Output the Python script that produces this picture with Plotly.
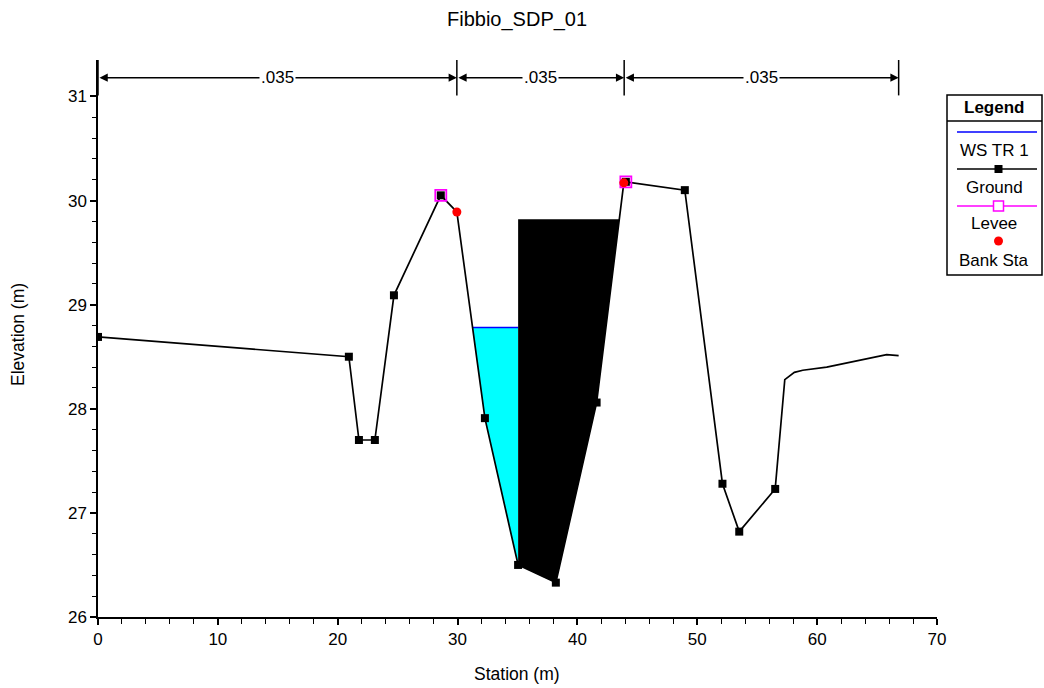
import numpy as np
import plotly.graph_objects as go

# ---------------- data ----------------
chart_title = "Fibbio_SDP_01"
x_title = "Station (m)"
y_title = "Elevation (m)"

ground_x = [0.0, 20.93, 21.77, 23.1, 24.69, 28.6, 29.94, 32.28, 35.05, 38.2, 41.6,
            43.87, 44.04, 48.96, 52.1, 53.5, 56.5, 57.3, 58.1, 58.8, 60.8, 63.0, 65.8, 66.8]
ground_y = [28.69, 28.5, 27.70, 27.70, 29.09, 30.05, 29.89, 27.91, 26.5, 26.33, 28.06,
            30.17, 30.18, 30.10, 27.28, 26.82, 27.23, 28.28, 28.35, 28.37, 28.40, 28.45, 28.52, 28.51]
ground_marked = [True, True, True, True, True, True, False, True, True, True, True,
                 False, True, True, True, True, True, False, False, False, False, False, False, False]

levee_x = [28.6, 44.04]
levee_y = [30.05, 30.18]

bank_x = [29.94, 43.87]
bank_y = [29.89, 30.17]

ws_elev = 28.78          # WS TR 1
obs_left = 35.05         # blocked obstruction left station
obs_elev = 29.82         # blocked obstruction elevation

n_stations = [0.0, 29.94, 43.9, 66.8]
n_values = [".035", ".035", ".035"]

legend_labels = ["WS TR 1", "Ground", "Levee", "Bank Sta"]

x_ticks = [0, 10, 20, 30, 40, 50, 60, 70]
y_ticks = [26, 27, 28, 29, 30, 31]

# ---------------- derived geometry ----------------
gx = np.array(ground_x)
gy = np.array(ground_y)

# water polygon: from left ground crossing to obstruction left edge
cand = [i for i in range(len(gx) - 1) if gx[i + 1] <= obs_left and gy[i] >= ws_elev > gy[i + 1]]
i0 = cand[-1]
xl = gx[i0] + (ws_elev - gy[i0]) / (gy[i0 + 1] - gy[i0]) * (gx[i0 + 1] - gx[i0])
inner = [k for k in range(i0 + 1, len(gx)) if gx[k] <= obs_left]
wx = [xl] + [gx[k] for k in inner] + [obs_left, xl]
wy = [ws_elev] + [gy[k] for k in inner] + [ws_elev, ws_elev]

# obstruction polygon
cand2 = [j for j in range(len(gx) - 1) if gx[j] >= obs_left and gy[j] < obs_elev <= gy[j + 1]]
j0 = cand2[0]
xr = gx[j0] + (obs_elev - gy[j0]) / (gy[j0 + 1] - gy[j0]) * (gx[j0 + 1] - gx[j0])
under = [k for k in range(len(gx)) if obs_left <= gx[k] <= gx[j0]]
ox = [obs_left, xr] + [gx[k] for k in reversed(under)] + [obs_left]
oy = [obs_elev, obs_elev] + [gy[k] for k in reversed(under)] + [obs_elev]

# ---------------- layout geometry (pixels) ----------------
W, H = 1044, 688
L, R, T, B = 98, 107, 60, 71
PW, PH = W - L - R, H - T - B
FONT = "Liberation Sans, Arial, sans-serif"


def PX(p):
    return (p - L) / PW


def PY(p):
    return (H - B - p) / PH


def label(x, y, text, size=17, **kw):
    d = dict(x=PX(x), y=PY(y), xref="paper", yref="paper", text=text, showarrow=False,
             xanchor="center", yanchor="middle",
             font=dict(family=FONT, size=size, color="black"))
    d.update(kw)
    return d


fig = go.Figure()

fig.add_trace(go.Scatter(x=wx, y=wy, fill="toself", fillcolor="#00FFFF", mode="lines",
                         line=dict(width=0), hoverinfo="skip", showlegend=False))
fig.add_trace(go.Scatter(x=[xl, obs_left], y=[ws_elev, ws_elev], mode="lines",
                         line=dict(color="#0000FF", width=1.5), name=legend_labels[0], showlegend=False))
fig.add_trace(go.Scatter(x=gx, y=gy, mode="lines", line=dict(color="black", width=1.7),
                         name=legend_labels[1], showlegend=False))
mx = [x for x, m in zip(ground_x, ground_marked) if m]
my = [y for y, m in zip(ground_y, ground_marked) if m]
fig.add_trace(go.Scatter(x=mx, y=my, mode="markers",
                         marker=dict(symbol="square", color="black", size=8, line=dict(width=0)),
                         showlegend=False, hoverinfo="skip"))
fig.add_trace(go.Scatter(x=ox, y=oy, fill="toself", fillcolor="black", mode="lines",
                         line=dict(width=0, color="black"), hoverinfo="skip", showlegend=False))
fig.add_trace(go.Scatter(x=levee_x, y=levee_y, mode="markers", name=legend_labels[2],
                         marker=dict(symbol="square-open", color="#FF00FF", size=11, line=dict(width=1.8)),
                         showlegend=False))
fig.add_trace(go.Scatter(x=bank_x, y=bank_y, mode="markers", name=legend_labels[3],
                         marker=dict(symbol="circle", color="#FF0000", size=9, line=dict(width=0)),
                         showlegend=False))

shapes = []
annotations = []

# Manning's n boundaries and arrows
n_arrow_y = 31.18
for s in n_stations:
    shapes.append(dict(type="line", xref="x", yref="y", x0=s, x1=s, y0=31.01, y1=31.35,
                       line=dict(color="black", width=1.5)))
for a, b, v in zip(n_stations[:-1], n_stations[1:], n_values):
    annotations.append(dict(x=b, y=n_arrow_y, ax=a, ay=n_arrow_y, xref="x", yref="y",
                            axref="x", ayref="y", text="", showarrow=True,
                            arrowside="end+start", arrowhead=2, startarrowhead=2,
                            arrowsize=1.1, startarrowsize=1.1, arrowwidth=1.5,
                            arrowcolor="black", standoff=0, startstandoff=0))
    annotations.append(dict(x=(a + b) / 2, y=n_arrow_y, xref="x", yref="y", text=v,
                            showarrow=False, bgcolor="white", borderpad=1,
                            xanchor="center", yanchor="middle",
                            font=dict(family=FONT, size=17, color="black")))

# title & axis titles
annotations.append(label(517, 20, chart_title, size=20))
annotations.append(label(517, 674, x_title, size=17.5))
annotations.append(label(18, 335, y_title, size=17.5, textangle=-90))

# legend box (manual)
lx0, lx1, ly0, ly1 = 947, 1042, 95, 275
cx = (lx0 + lx1) / 2
shapes.append(dict(type="rect", xref="paper", yref="paper", x0=PX(lx0), x1=PX(lx1),
                   y0=PY(ly1), y1=PY(ly0), line=dict(color="black", width=1.5), fillcolor="white",
                   layer="below"))
shapes.append(dict(type="line", xref="paper", yref="paper", x0=PX(lx0), x1=PX(lx1),
                   y0=PY(121), y1=PY(121), line=dict(color="black", width=1.5)))
annotations.append(label(cx, 107, "<b>Legend</b>", size=17))
# WS
shapes.append(dict(type="line", xref="paper", yref="paper", x0=PX(957), x1=PX(1037),
                   y0=PY(132), y1=PY(132), line=dict(color="#0000FF", width=1.5)))
# Ground
shapes.append(dict(type="line", xref="paper", yref="paper", x0=PX(957), x1=PX(1037),
                   y0=PY(169), y1=PY(169), line=dict(color="black", width=1.5)))
shapes.append(dict(type="rect", xref="paper", yref="paper", x0=PX(994.5), x1=PX(1002.5),
                   y0=PY(173), y1=PY(165), line=dict(width=0), fillcolor="black"))
# Levee
shapes.append(dict(type="line", xref="paper", yref="paper", x0=PX(957), x1=PX(1037),
                   y0=PY(206), y1=PY(206), line=dict(color="#FF00FF", width=1.5)))
shapes.append(dict(type="rect", xref="paper", yref="paper", x0=PX(993.5), x1=PX(1003.5),
                   y0=PY(211), y1=PY(201), line=dict(color="#FF00FF", width=1.5), fillcolor="white"))
# Bank
shapes.append(dict(type="circle", xref="paper", yref="paper", x0=PX(994), x1=PX(1003),
                   y0=PY(245.5), y1=PY(236.5), line=dict(width=0), fillcolor="#FF0000"))
for lab, yy in zip(legend_labels, [150, 187, 223, 260]):
    annotations.append(label(cx, yy, lab, size=17))

minor_y = [round(v, 1) for v in np.arange(26, 31.01, 0.2) if abs(v - round(v)) > 1e-6]
minor_x = [v for v in range(0, 71, 2) if v % 10 != 0]

fig.update_layout(
    width=W, height=H,
    margin=dict(l=L, r=R, t=T, b=B, pad=0),
    paper_bgcolor="white", plot_bgcolor="white",
    showlegend=False,
    shapes=shapes, annotations=annotations,
    font=dict(family=FONT, size=17, color="black"),
    xaxis=dict(range=[0, 70], tickvals=x_ticks, ticks="outside", ticklen=6, tickwidth=1.5,
               tickcolor="black", showline=True, linecolor="black", linewidth=1.5,
               showgrid=False, zeroline=False, tickfont=dict(family=FONT, size=17),
               minor=dict(tickvals=minor_x, ticks="outside", ticklen=5, tickwidth=1.2,
                          tickcolor="black", showgrid=False)),
    yaxis=dict(range=[26, 31.35], tickvals=y_ticks, ticks="outside", ticklen=6, tickwidth=1.5,
               tickcolor="black", showline=True, linecolor="black", linewidth=1.5,
               showgrid=False, zeroline=False, tickfont=dict(family=FONT, size=17),
               minor=dict(tickvals=minor_y, ticks="outside", ticklen=4, tickwidth=1.2,
                          tickcolor="black", showgrid=False)),
)

fig.write_html("out.html")
